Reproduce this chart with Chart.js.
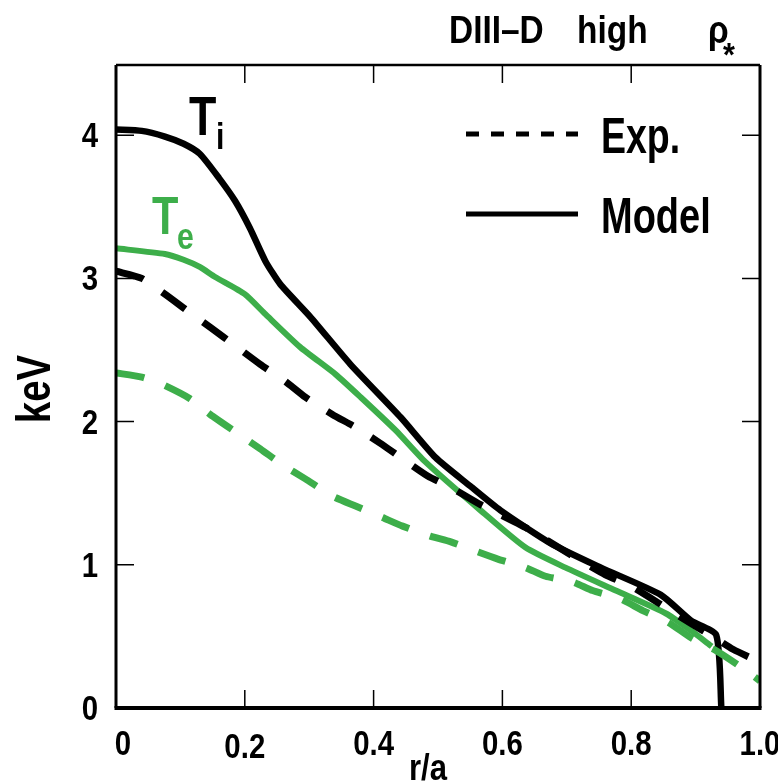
<!DOCTYPE html>
<html>
<head>
<meta charset="utf-8">
<script src="https://cdn.jsdelivr.net/npm/chart.js@4.4.1/dist/chart.umd.min.js"></script>
<style>
  html, body { margin: 0; padding: 0; background: #fff; }
  #wrap { width: 778px; height: 784px; position: relative; }
</style>
</head>
<body>
<div id="wrap"><canvas id="chart"></canvas></div>
<script>
    // r/a positions and keV values
    const tiModelR = [0, 0.04, 0.076, 0.105, 0.13, 0.16, 0.185, 0.208, 0.232, 0.255, 0.302, 0.364, 0.442, 0.496, 0.55, 0.597, 0.675, 0.753, 0.846, 0.893, 0.932, 0.94];
    const tiModel  = [4.04, 4.03, 3.99, 3.94, 3.87, 3.70, 3.54, 3.35, 3.12, 2.96, 2.73, 2.40, 2.03, 1.75, 1.55, 1.38, 1.15, 0.98, 0.79, 0.61, 0.51, 0];

    const teModelR = [0, 0.076, 0.105, 0.13, 0.154, 0.2, 0.232, 0.286, 0.341, 0.38, 0.434, 0.48, 0.566, 0.636, 0.698, 0.776, 0.854, 0.893, 0.925];
    const teModel  = [3.21, 3.17, 3.13, 3.08, 3.01, 2.89, 2.75, 2.52, 2.33, 2.17, 1.94, 1.72, 1.38, 1.12, 0.98, 0.82, 0.66, 0.54, 0.43];

    const tiExpR = [0, 0.04, 0.076, 0.115, 0.146, 0.188, 0.224, 0.263, 0.294, 0.336, 0.372, 0.41, 0.445, 0.484, 0.52, 0.566, 0.636, 0.706, 0.76, 0.80, 0.854, 0.893, 0.93, 0.958, 1.0];
    const tiExp  = [3.05, 3.0, 2.89, 2.76, 2.66, 2.52, 2.40, 2.28, 2.17, 2.05, 1.96, 1.85, 1.74, 1.62, 1.54, 1.42, 1.26, 1.07, 0.93, 0.85, 0.70, 0.59, 0.49, 0.41, 0.32];

    const teExpR = [0, 0.04, 0.072, 0.115, 0.146, 0.188, 0.224, 0.258, 0.294, 0.336, 0.372, 0.414, 0.445, 0.488, 0.52, 0.562, 0.593, 0.636, 0.667, 0.709, 0.74, 0.784, 0.818, 0.857, 0.893, 0.932, 0.966, 1.0];
    const teExp  = [2.34, 2.31, 2.26, 2.16, 2.05, 1.92, 1.81, 1.70, 1.60, 1.48, 1.41, 1.33, 1.27, 1.20, 1.16, 1.09, 1.04, 0.98, 0.92, 0.88, 0.82, 0.76, 0.68, 0.60, 0.49, 0.40, 0.30, 0.19];

    const xTicks = [0, 0.2, 0.4, 0.6, 0.8, 1.0];
    const xTickLabels = ['0', '0.2', '0.4', '0.6', '0.8', '1.0'];
    const yTicks = [0, 1, 2, 3, 4];
    const yTickLabels = ['0', '1', '2', '3', '4'];

    const GREEN = '#3dae4a';
    const FONT = "'Liberation Sans', Arial, sans-serif";

    function pts(xs, ys) {
        return xs.map((x, i) => ({ x: x, y: ys[i] }));
    }

    // bold text squeezed horizontally, the original uses a narrow face
    function say(ctx, s, x, y, size, sx, align, color) {
        ctx.save();
        ctx.font = 'bold ' + size + 'px ' + FONT;
        ctx.fillStyle = color || '#000';
        ctx.textAlign = align || 'left';
        ctx.textBaseline = 'alphabetic';
        ctx.translate(x, y);
        ctx.scale(sx, 1);
        ctx.fillText(s, 0, 0);
        ctx.restore();
    }

    // frame, inward ticks, labels and legend
    const decor = {
        id: 'decor',
        afterDraw(chart) {
            const ctx = chart.ctx;
            const a = chart.chartArea;
            const xs = chart.scales.x, ys = chart.scales.y;
            ctx.save();
            ctx.strokeStyle = '#000';
            ctx.lineCap = 'butt';

            ctx.lineWidth = 1.5;
            ctx.beginPath();
            xTicks.slice(1, -1).forEach(v => {
                const px = xs.getPixelForValue(v);
                ctx.moveTo(px, a.bottom); ctx.lineTo(px, a.bottom - 18);
                ctx.moveTo(px, a.top); ctx.lineTo(px, a.top + 18);
            });
            yTicks.slice(1).forEach(v => {
                const py = ys.getPixelForValue(v);
                ctx.moveTo(a.left, py); ctx.lineTo(a.left + 18, py);
                ctx.moveTo(a.right, py); ctx.lineTo(a.right - 18, py);
            });
            ctx.stroke();

            ctx.lineWidth = 2.5;
            ctx.beginPath(); ctx.moveTo(a.left, a.top); ctx.lineTo(a.right, a.top); ctx.stroke();
            ctx.lineWidth = 3;
            ctx.beginPath(); ctx.moveTo(a.left, a.top); ctx.lineTo(a.left, a.bottom); ctx.stroke();
            ctx.beginPath(); ctx.moveTo(a.right, a.top); ctx.lineTo(a.right, a.bottom); ctx.stroke();
            ctx.lineWidth = 4;
            ctx.beginPath(); ctx.moveTo(a.left - 1.5, a.bottom); ctx.lineTo(a.right + 1.5, a.bottom); ctx.stroke();

            // tick labels
            xTicks.forEach((v, i) => {
                const px = xs.getPixelForValue(v) + (i === 0 ? 7 : 0);
                say(ctx, xTickLabels[i], px, i === 1 ? 758 : 755, 35, 0.84, 'center');
            });
            yTicks.forEach((v, i) => {
                const py = ys.getPixelForValue(v);
                say(ctx, yTickLabels[i], 98, py + 12, 35, 0.84, 'right');
            });

            // axis titles
            say(ctx, 'r/a', 428, 780, 37, 0.84, 'center');
            ctx.save();
            ctx.translate(50, 389);
            ctx.rotate(-Math.PI / 2);
            say(ctx, 'keV', 0, 0, 48, 0.8, 'center');
            ctx.restore();

            // legend
            ctx.lineWidth = 5;
            ctx.setLineDash([13, 12]);
            ctx.beginPath(); ctx.moveTo(466, 134); ctx.lineTo(578, 134); ctx.stroke();
            ctx.setLineDash([]);
            ctx.beginPath(); ctx.moveTo(466, 214); ctx.lineTo(578, 214); ctx.stroke();
            say(ctx, 'Exp.', 601, 153, 50, 0.75);
            say(ctx, 'Model', 601, 233, 50, 0.76);

            // title
            say(ctx, 'DIII\u2013D', 449, 43, 38, 0.88);
            say(ctx, 'high', 577, 43, 38, 0.88);
            say(ctx, '\u03c1', 708, 43, 38, 0.88);
            say(ctx, '*', 723, 66, 34, 0.9);

            // curve labels
            say(ctx, 'T', 189, 135, 56, 0.8);
            say(ctx, 'i', 216, 149, 36, 0.84);
            say(ctx, 'T', 152, 234, 54, 0.8, 'left', GREEN);
            say(ctx, 'e', 177, 249, 36, 0.84, 'left', GREEN);

            ctx.restore();
        }
    };

    const ctx = document.getElementById('chart').getContext('2d');

    new Chart(ctx, {
        type: 'line',
        data: {
            datasets: [
                {
                    label: 'Te Exp.',
                    data: pts(teExpR, teExp),
                    borderColor: GREEN,
                    borderWidth: 7,
                    borderDash: [29, 22],
                    pointRadius: 0,
                    tension: 0.2
                },
                {
                    label: 'Ti Exp.',
                    data: pts(tiExpR, tiExp),
                    borderColor: '#000',
                    borderWidth: 7,
                    borderDash: [29, 22],
                    pointRadius: 0,
                    tension: 0.2
                },
                {
                    label: 'Te Model',
                    data: pts(teModelR, teModel),
                    borderColor: GREEN,
                    borderWidth: 6,
                    pointRadius: 0,
                    tension: 0.2
                },
                {
                    label: 'Ti Model',
                    data: pts(tiModelR, tiModel),
                    borderColor: '#000',
                    borderWidth: 6.5,
                    pointRadius: 0,
                    tension: 0.2
                }
            ]
        },
        options: {
            responsive: true,
            maintainAspectRatio: false,
            animation: false,
            layout: { padding: { top: 65, right: 18, left: 0, bottom: 0 } },
            plugins: {
                legend: { display: false },
                tooltip: { enabled: false }
            },
            scales: {
                x: {
                    type: 'linear',
                    min: 0,
                    max: 1,
                    afterFit: s => { s.height = 76; s.paddingLeft = 0; s.paddingRight = 0; },
                    grid: { display: false, drawTicks: false },
                    border: { display: false },
                    ticks: { display: false }
                },
                y: {
                    min: 0,
                    max: 4.49,
                    afterFit: s => { s.width = 116; s.paddingTop = 0; s.paddingBottom = 0; },
                    grid: { display: false, drawTicks: false },
                    border: { display: false },
                    ticks: { display: false }
                }
            }
        },
        plugins: [decor]
    });
</script>
</body>
</html>
